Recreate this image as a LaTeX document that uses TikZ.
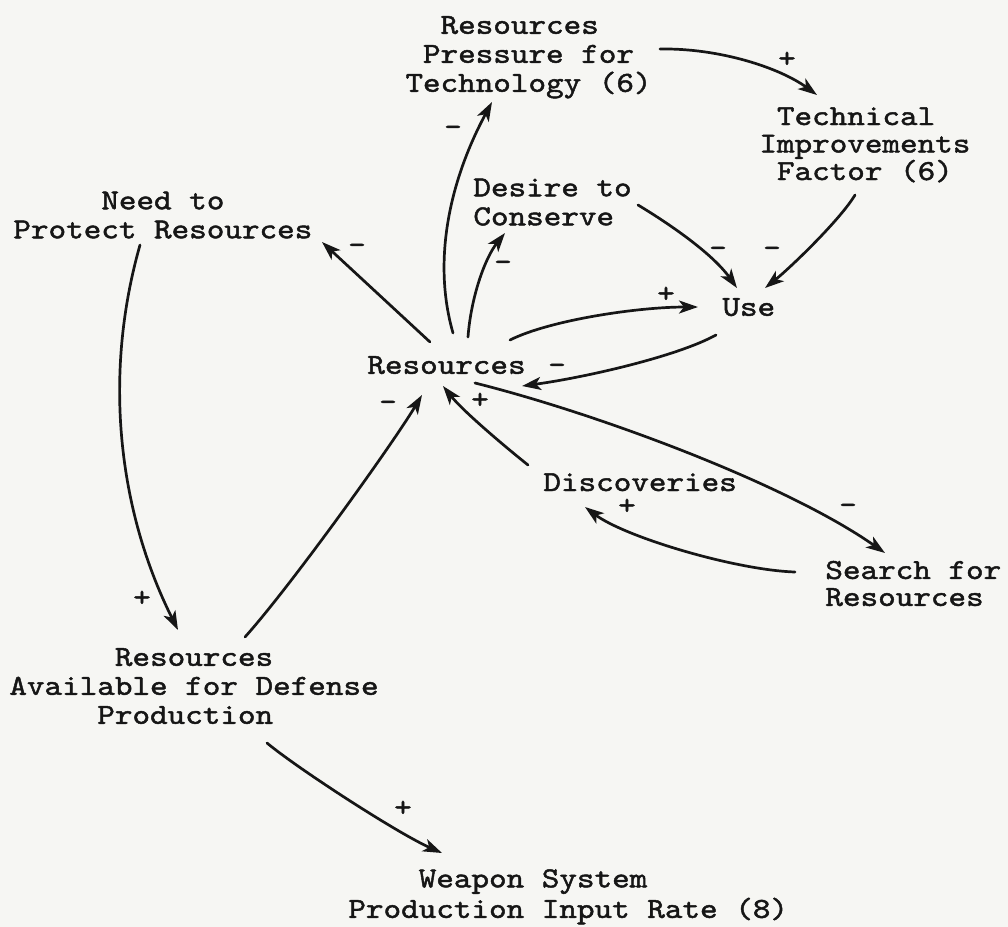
\documentclass[tikz,border=0pt]{standalone}
\usepackage{fontspec}
\newfontfamily\tw{lmmono10-regular}[Extension=.otf, FakeStretch=1.155, FakeBold=1.6]
\usetikzlibrary{arrows.meta}
\definecolor{paper}{RGB}{246,246,243}
\definecolor{ink}{RGB}{22,22,22}
\newcommand\twfont[1][14.5]{\tw\fontsize{14.5}{#1}\selectfont}
\newcommand\ind[1]{\hspace*{#1\fontcharwd\font`M}}
\tikzset{
  lbl/.style={inner sep=0pt, anchor=west, align=left, text=ink, font=\twfont},
  plus/.style={inner sep=0pt, text=ink, font=\twfont, anchor=base, yshift=-4.6pt},
  minus/.style={inner sep=0pt, text=ink, font=\twfont, anchor=base, yshift=-3.9pt},
  link/.style={draw=ink, line width=1.35pt, line cap=round,
    -{Stealth[length=9.5pt,width=6.5pt,inset=2.5pt]}}
}
\begin{document}
\begin{tikzpicture}[x=0.5pt,y=-0.5pt]
\path[use as bounding box, fill=paper] (0,0) rectangle (1008,927);

% variables
\node[lbl] (ptech) at (405,57) {\strut\ind{2}Resources\\\ind{1}Pressure for\\Technology (6)\strut};
\node[lbl, font={\twfont[13.75]}] (tech) at (759,147) {\strut\ind{1}Technical\\Improvements\\\ind{1}Factor (6)\strut};
\node[lbl] (desire) at (473,205) {\strut Desire to\\Conserve\strut};
\node[lbl] (need) at (13,218) {\strut\ind{5}Need to\\Protect Resources\strut};
\node[lbl] (use) at (722,310) {\strut Use};
\node[lbl] (res) at (367,368) {\strut Resources};
\node[lbl, anchor=base west] (disc) at (543,491) {Discoveries};
\node[lbl, font={\twfont[12]}] (search) at (825,587) {\strut Search for\\Resources\strut};
\node[lbl] (avail) at (9,689) {\strut\ind{6}Resources\\Available for Defense\\\ind{5}Production\strut};
\node[lbl, font={\twfont[14]}] (weapon) at (348,897) {\strut\ind{4}Weapon System\\Production Input Rate (8)\strut};

% connectors
\draw[link] ([shift={(255,-8)}]ptech.west) .. controls +(60,-1) and +(-37,-27) .. ([shift={(58,-52)}]tech.west);
\draw[link] ([shift={(86,-35)}]res.west) .. controls +(-21,-73) and +(-42,78) .. ([shift={(87,45)}]ptech.west);
\draw[link] ([shift={(63,-26)}]res.west) -- ([shift={(309,24)}]need.west);
\draw[link] ([shift={(101,-31)}]res.west) .. controls +(3,-40) and +(-20,25) .. ([shift={(32,28)}]desire.west);
\draw[link] ([shift={(143,-28)}]res.west) .. controls +(40,-20) and +(-60,0) .. ([shift={(-24,-3)}]use.west);
\draw[link] ([shift={(-6,25)}]use.west) .. controls +(-40,22) and +(60,-8) .. ([shift={(155,18)}]res.west);
\draw[link] ([shift={(165,0)}]desire.west) .. controls +(30,18) and +(-25,-35) .. ([shift={(15,-22)}]use.west);
\draw[link] ([shift={(96,48)}]tech.west) .. controls +(-15,25) and +(25,-20) .. ([shift={(43,-22)}]use.west);
\draw[link] ([shift={(108,15)}]res.west) .. controls +(120,30) and +(-100,-70) .. ([shift={(60,-34)}]search.west);
\draw[link] ([shift={(-30,-15)}]search.west) .. controls +(-60,-2) and +(40,30) .. ([shift={(42,16)}]disc.base west);
\draw[link] ([shift={(-15,-26)}]disc.base west) .. controls +(-25,-20) and +(20,25) .. ([shift={(76,18)}]res.west);
\draw[link] ([shift={(236,-52)}]avail.west) .. controls +(45,-50) and +(-30,50) .. ([shift={(55,27)}]res.west);
\draw[link] ([shift={(127,27)}]need.west) .. controls +(-37,130) and +(-60,-120) .. ([shift={(169,-59)}]avail.west);
\draw[link] ([shift={(258,54)}]avail.west) .. controls +(30,25) and +(-45,-20) .. ([shift={(94,-44)}]weapon.west);

% polarity signs
\node[plus] (s1) at (787,58) {+};
\node[minus] (s2) at (453,128) {\textendash};
\node[minus] (s3) at (357,246) {\textendash};
\node[minus] (s4) at (503,263) {\textendash};
\node[plus] (s5) at (666,293) {+};
\node[minus] (s6) at (557,366) {\textendash};
\node[minus] (s7) at (718,249) {\textendash};
\node[minus] (s8) at (772,249) {\textendash};
\node[minus] (s9) at (848,506) {\textendash};
\node[plus] (s10) at (627,505) {+};
\node[plus] (s11) at (480,399) {+};
\node[minus] (s12) at (388,403) {\textendash};
\node[plus] (s13) at (142,597) {+};
\node[plus] (s14) at (403,807) {+};
\end{tikzpicture}
\end{document}
